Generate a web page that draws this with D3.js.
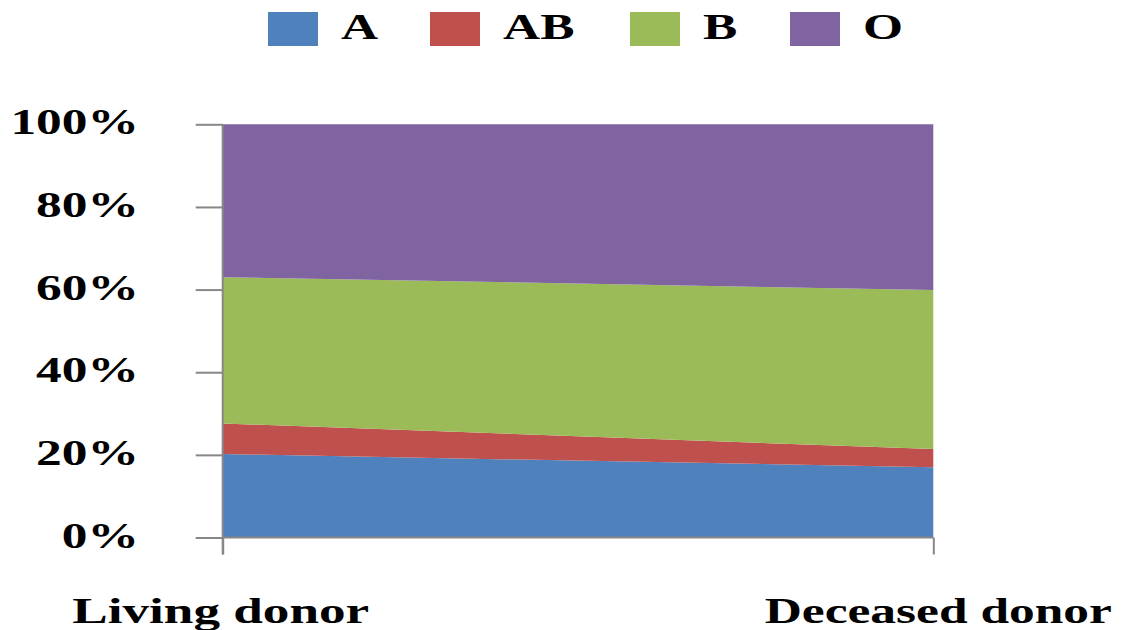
<!DOCTYPE html>
<html>
<head>
<meta charset="utf-8">
<script src="https://cdn.jsdelivr.net/npm/d3@7"></script>
<style>
  html, body { margin: 0; padding: 0; background: #fff; }
  svg { display: block; }
  text { font-family: "Liberation Serif", "Times New Roman", serif; font-weight: bold; fill: #000; }
</style>
</head>
<body>
<svg id="chart" width="1124" height="630"></svg>
<script>
// ---- data ----
const categories = ["Living donor", "Deceased donor"];
const seriesKeys = ["A", "AB", "B", "O"];
const valuesA  = [20.2, 17.0];
const valuesAB = [7.4, 4.4];
const valuesB  = [35.4, 38.5];
const valuesO  = [37.0, 40.1];
const yTicks = [0, 20, 40, 60, 80, 100];
const colors = ["#4F81BD", "#C0504D", "#9BBB59", "#8064A2"];

const rows = categories.map((c, i) => ({
  cat: c, A: valuesA[i], AB: valuesAB[i], B: valuesB[i], O: valuesO[i]
}));

const svg = d3.select("#chart");
const SX = 1.47;           // horizontal text stretch seen in the reference
const FS = 35;

const x = d3.scalePoint().domain(categories).range([222.7, 933.3]).padding(0);
const y = d3.scaleLinear().domain([0, 100]).range([537.5, 124.3]);

const stack = d3.stack().keys(seriesKeys);
const layers = stack(rows);

const area = d3.area()
  .x(d => x(d.data.cat))
  .y0(d => y(d[0]))
  .y1(d => y(d[1]));

svg.append("g").selectAll("path")
  .data(layers)
  .join("path")
  .attr("d", area)
  .attr("fill", (d, i) => colors[i]);

// y axis
const yAxis = svg.append("g")
  .attr("transform", `translate(${x(categories[0])},0)`)
  .call(d3.axisLeft(y).tickValues(yTicks).tickSize(27).tickFormat(""));
yAxis.select(".domain").attr("d", `M0,${y(100)}V${y(0) + 17}`);
yAxis.selectAll("path, line").attr("stroke", "#878787").attr("stroke-width", 2);

svg.append("g").selectAll("text")
  .data(yTicks)
  .join("text")
  .attr("transform", d => `translate(139,${y(d) + 10}) scale(${SX},1)`)
  .attr("text-anchor", "end")
  .attr("font-size", FS)
  .text(d => d + "%");

// x axis
const xAxis = svg.append("g")
  .attr("transform", `translate(0,${y(0)})`)
  .call(d3.axisBottom(x).tickSize(17).tickFormat(""));
xAxis.select(".domain").attr("d", `M${x(categories[0])},0H${x(categories[1])}`);
xAxis.selectAll("path, line").attr("stroke", "#878787").attr("stroke-width", 2);

svg.append("g").selectAll("text")
  .data(categories)
  .join("text")
  .attr("transform", (d, i) => `translate(${x(d) + (i === 0 ? -2 : 5)},623) scale(${i === 0 ? 1.52 : SX},1)`)
  .attr("text-anchor", "middle")
  .attr("font-size", FS)
  .text(d => d);

// legend
const legendX = [268, 430, 630, 790];
const lg = svg.append("g").selectAll("g")
  .data(seriesKeys)
  .join("g")
  .attr("transform", (d, i) => `translate(${legendX[i]},12)`);
lg.append("rect")
  .attr("width", 50).attr("height", 34)
  .attr("fill", (d, i) => colors[i]);
lg.append("text")
  .attr("transform", `translate(73,27) scale(${SX},1)`)
  .attr("font-size", FS)
  .text(d => d);
</script>
</body>
</html>
